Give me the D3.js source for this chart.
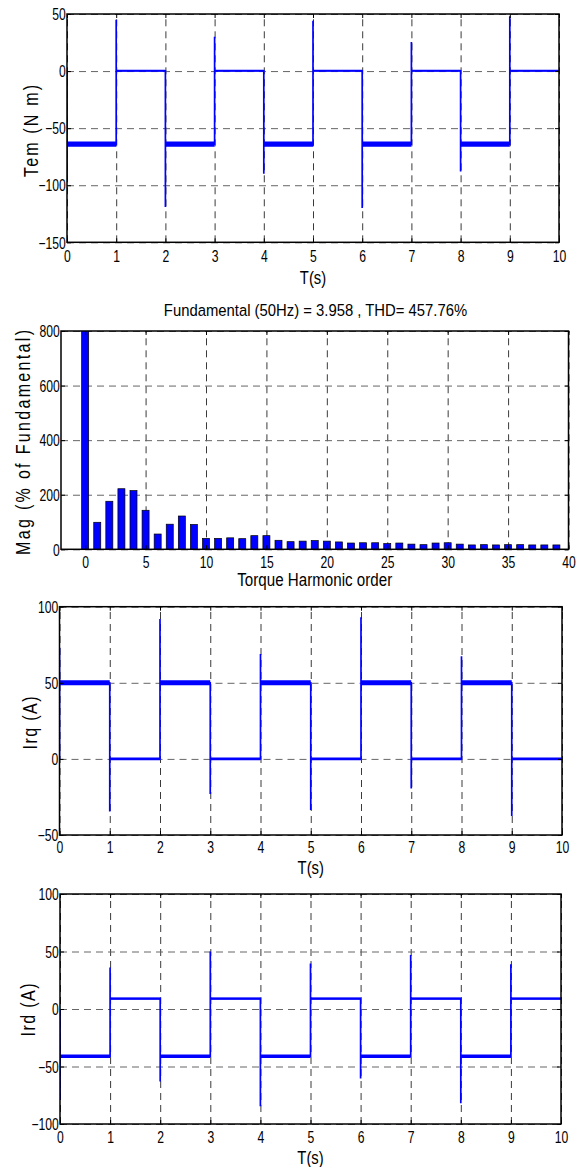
<!DOCTYPE html>
<html><head><meta charset="utf-8">
<script src="https://cdn.jsdelivr.net/npm/d3@7"></script>
<style>
body{margin:0;background:#fff}
svg{display:block}
text{font-family:"Liberation Sans",Arial,Helvetica,sans-serif;fill:#000}
</style>
</head><body>
<svg id="c" width="581" height="1167"></svg>
<script>
// ---------------- DATA ----------------
const timeTicks = [0, 1, 2, 3, 4, 5, 6, 7, 8, 9, 10];
const switchTimes = [0, 1, 2, 3, 4, 5, 6, 7, 8, 9];
const endTime = 10;

// Electromagnetic torque Tem (N m)
const temStart = 0;
const temLevels = [-64, 0.3, -64, 0.3, -64, 0.3, -64, 0.3, -64, 0.3];
const temSpikes = [-95, 45, -119, 30, -90, 44, -120, 25.5, -88, 48];
const temNoise  = [2.3, 0.9, 2.3, 0.9, 2.3, 0.9, 2.3, 0.9, 2.3, 0.9];
const temYTicks = [-150, -100, -50, 0, 50];

// Torque harmonic spectrum (% of fundamental)
const harmonicOrders = [0, 1, 2, 3, 4, 5, 6, 7, 8, 9, 10, 11, 12, 13, 14, 15, 16, 17, 18, 19,
                        20, 21, 22, 23, 24, 25, 26, 27, 28, 29, 30, 31, 32, 33, 34, 35, 36, 37, 38, 39];
const harmonicMag = [808, 99, 176, 222, 215, 143, 56, 92, 122, 91,
                     40, 40, 42, 39, 50, 50, 33, 28, 30, 32,
                     30, 27, 23, 24, 24, 21, 23, 19, 17, 23,
                     24, 19, 16, 17, 16, 17, 17, 16, 16, 16];
const harmonicXTicks = [0, 5, 10, 15, 20, 25, 30, 35, 40];
const harmonicYTicks = [0, 200, 400, 600, 800];
const spectrumTitle = "Fundamental (50Hz) = 3.958 , THD= 457.76%";

// Rotor current Irq (A)
const irqStart = 0;
const irqLevels = [50, 0, 50, 0, 50, 0, 50, 0, 50, 0];
const irqSpikes = [73, -34.5, 92, -23, 69, -33.5, 93, -19.5, 67.5, -37.5];
const irqNoise  = [1.6, 0.9, 1.6, 0.9, 1.6, 0.9, 1.6, 0.9, 1.6, 0.9];
const irqYTicks = [-50, 0, 50, 100];

// Rotor current Ird (A)
const irdStart = 0;
const irdLevels = [-41, 9, -41, 9, -41, 9, -41, 9, -41, 9];
const irdSpikes = [-79, 36, -63, 50, -84.5, 39.5, -60.5, 47, -82, 39];
const irdNoise  = [1.5, 1.0, 1.5, 1.0, 1.5, 1.0, 1.5, 1.0, 1.5, 1.0];
const irdYTicks = [-100, -50, 0, 50, 100];

// ---------------- DRAWING ----------------
const svg = d3.select("#c");
const BLUE = "#0000ff";
const TICK_FS = 16, TICK_SX = 0.76;

function makePanel(cfg) {
  const x = d3.scaleLinear().domain(cfg.xDomain).range([cfg.left, cfg.right]);
  const y = d3.scaleLinear().domain(cfg.yDomain).range([cfg.bottom, cfg.top]);
  const w = cfg.right - cfg.left, h = cfg.bottom - cfg.top;
  const g = svg.append("g");
  svg.append("clipPath").attr("id", "clip" + cfg.id)
    .append("rect").attr("x", cfg.left).attr("y", cfg.top).attr("width", w).attr("height", h);

  const gx = g.append("g").attr("transform", `translate(0,${cfg.bottom})`)
    .call(d3.axisBottom(x).tickValues(cfg.xTicks).tickSize(-h).tickFormat(""));
  gx.select(".domain").remove();
  gx.selectAll("line").attr("stroke", "#3a3a3a").attr("stroke-width", 1).attr("stroke-dasharray", "7,5");
  const gy = g.append("g").attr("transform", `translate(${cfg.left},0)`)
    .call(d3.axisLeft(y).tickValues(cfg.yTicks).tickSize(-w).tickFormat(""));
  gy.select(".domain").remove();
  gy.selectAll("line").attr("stroke", "#666").attr("stroke-width", 1).attr("stroke-dasharray", "7,5");

  const plot = g.append("g").attr("clip-path", `url(#clip${cfg.id})`);
  return { x, y, g, plot, cfg };
}

function finishPanel(p) {
  const { x, y, g, cfg } = p;
  const w = cfg.right - cfg.left, h = cfg.bottom - cfg.top;
  const ab = g.append("g").attr("transform", `translate(0,${cfg.bottom})`)
    .call(d3.axisBottom(x).tickValues(cfg.xTicks).tickSizeInner(-4).tickSizeOuter(0).tickFormat(d3.format("d")));
  ab.select(".domain").remove();
  ab.selectAll("line").attr("stroke", "#000");
  ab.selectAll("text").attr("y", cfg.xLabelOffset).attr("dy", 0).attr("x", 0)
    .attr("font-size", TICK_FS).attr("font-family", null).attr("transform", `scale(${TICK_SX},1)`);
  const al = g.append("g").attr("transform", `translate(${cfg.left},0)`)
    .call(d3.axisLeft(y).tickValues(cfg.yTicks).tickSizeInner(-4).tickSizeOuter(0).tickFormat(d3.format("d")));
  al.select(".domain").remove();
  al.selectAll("line").attr("stroke", "#000");
  al.selectAll("text").attr("x", -1.5).attr("dy", "0.36em")
    .attr("font-size", TICK_FS).attr("font-family", null).attr("transform", `scale(${TICK_SX},1)`);
  const at = g.append("g").attr("transform", `translate(0,${cfg.top})`)
    .call(d3.axisTop(x).tickValues(cfg.xTicks).tickSizeInner(-4).tickSizeOuter(0).tickFormat(""));
  at.select(".domain").remove();
  at.selectAll("line").attr("stroke", "#000");
  const ar = g.append("g").attr("transform", `translate(${cfg.right},0)`)
    .call(d3.axisRight(y).tickValues(cfg.yTicks).tickSizeInner(-4).tickSizeOuter(0).tickFormat(""));
  ar.select(".domain").remove();
  ar.selectAll("line").attr("stroke", "#000");
  g.append("rect").attr("x", cfg.left).attr("y", cfg.top).attr("width", w).attr("height", h)
    .attr("fill", "none").attr("stroke", "#000").attr("stroke-width", 1.5);

  g.append("text").attr("transform", `translate(${(cfg.left + cfg.right) / 2},${cfg.xTitleY}) scale(${cfg.xTitleSX},1)`)
    .attr("text-anchor", "middle").attr("font-size", cfg.xTitleFS).text(cfg.xTitle);
  const sx = 0.8;
  g.append("text")
    .attr("transform", `translate(${cfg.yTitleX},${cfg.yTitleCY}) rotate(-90) scale(${sx},1)`)
    .attr("text-anchor", "middle").attr("dominant-baseline", "central")
    .attr("font-size", 20)
    .attr("textLength", cfg.yTitleLen / sx).attr("lengthAdjust", "spacing")
    .text(cfg.yTitle);
}

function drawSignal(p, start, levels, spikes, noise) {
  const { x, y, plot } = p;
  switchTimes.forEach((t0, i) => {
    const t1 = i + 1 < switchTimes.length ? switchTimes[i + 1] : endTime;
    const band = [[t0, levels[i]], [t1, levels[i]]];
    plot.append("path").datum(band)
      .attr("d", d3.area().x(d => x(d[0])).y0(d => y(d[1] - noise[i])).y1(d => y(d[1] + noise[i])))
      .attr("fill", BLUE);
  });
  const pts = [[switchTimes[0], start]];
  switchTimes.forEach((t, i) => {
    pts.push([t, spikes[i]]);
    pts.push([t, levels[i]]);
    const t1 = i + 1 < switchTimes.length ? switchTimes[i + 1] : endTime;
    pts.push([t1, levels[i]]);
  });
  plot.append("path").datum(pts)
    .attr("d", d3.line().x(d => x(d[0])).y(d => y(d[1])))
    .attr("fill", "none").attr("stroke", BLUE).attr("stroke-width", 1.7);
}

const p1 = makePanel({ id: 1, left: 67, right: 559, top: 14, bottom: 242.3,
  xDomain: [0, 10], yDomain: [-150, 50], xTicks: timeTicks, yTicks: temYTicks,
  xLabelOffset: 20, xTitle: "T(s)", xTitleY: 284, xTitleFS: 19, xTitleSX: 0.78,
  yTitle: "Tem (N m)", yTitleX: 31, yTitleCY: 131, yTitleLen: 92 });
drawSignal(p1, temStart, temLevels, temSpikes, temNoise);
finishPanel(p1);

const p2 = makePanel({ id: 2, left: 61, right: 568.5, top: 331, bottom: 549.3,
  xDomain: [-2, 40], yDomain: [0, 800], xTicks: harmonicXTicks, yTicks: harmonicYTicks,
  xLabelOffset: 18.5, xTitle: "Torque Harmonic order", xTitleY: 586, xTitleFS: 18.5, xTitleSX: 0.82,
  yTitle: "Mag (% of Fundamental)", yTitleX: 23.5, yTitleCY: 442.5, yTitleLen: 225 });
{
  const { x, y, plot } = p2;
  const bw = 0.58;
  plot.selectAll("rect.bar").data(harmonicOrders).join("rect").attr("class", "bar")
    .attr("x", (d) => x(d - bw / 2))
    .attr("width", x(bw) - x(0))
    .attr("y", (d, i) => y(harmonicMag[i]))
    .attr("height", (d, i) => y(0) - y(harmonicMag[i]))
    .attr("fill", BLUE).attr("stroke", "#000").attr("stroke-width", 0.7);
}
finishPanel(p2);
svg.append("text").attr("transform", `translate(315.5,316) scale(0.9,1)`)
  .attr("text-anchor", "middle").attr("font-size", 16.5).text(spectrumTitle);

const p3 = makePanel({ id: 3, left: 59.5, right: 562, top: 606.7, bottom: 835,
  xDomain: [0, 10], yDomain: [-50, 100], xTicks: timeTicks, yTicks: irqYTicks,
  xLabelOffset: 18.5, xTitle: "T(s)", xTitleY: 874, xTitleFS: 19, xTitleSX: 0.78,
  yTitle: "Irq (A)", yTitleX: 30.5, yTitleCY: 723, yTitleLen: 53 });
drawSignal(p3, irqStart, irqLevels, irqSpikes, irqNoise);
finishPanel(p3);

const p4 = makePanel({ id: 4, left: 60, right: 561, top: 894, bottom: 1124,
  xDomain: [0, 10], yDomain: [-100, 100], xTicks: timeTicks, yTicks: irdYTicks,
  xLabelOffset: 19.5, xTitle: "T(s)", xTitleY: 1164, xTitleFS: 19, xTitleSX: 0.78,
  yTitle: "Ird (A)", yTitleX: 28, yTitleCY: 1010, yTitleLen: 53 });
drawSignal(p4, irdStart, irdLevels, irdSpikes, irdNoise);
finishPanel(p4);
</script>
</body></html>
